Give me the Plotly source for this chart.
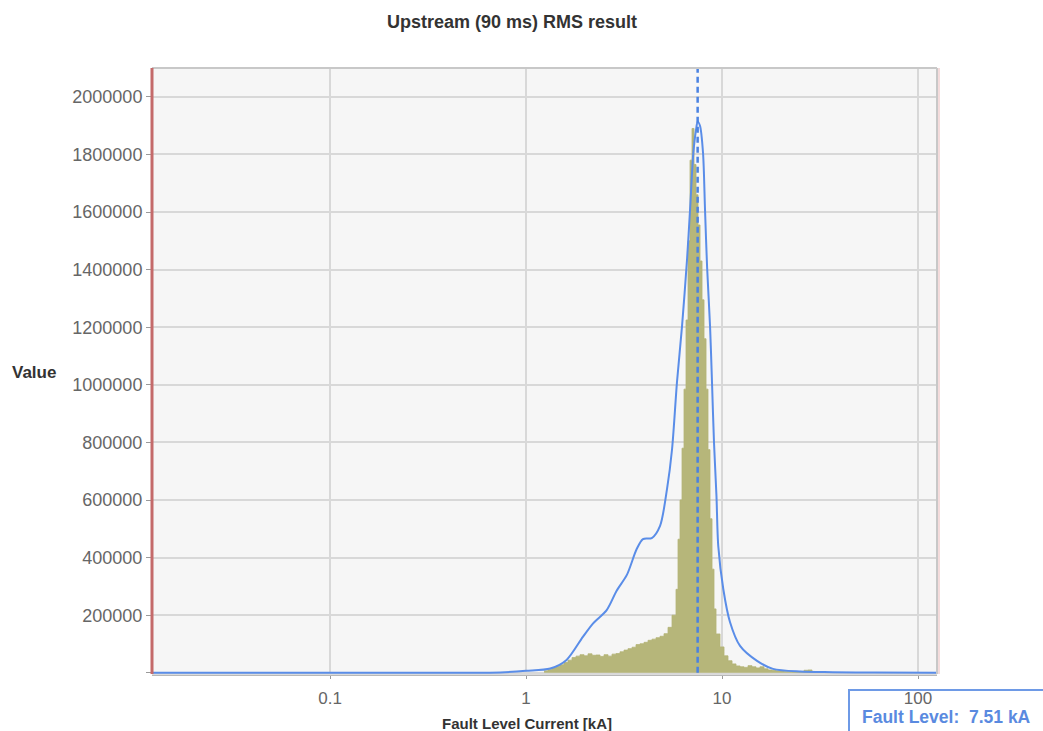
import math
import plotly.graph_objects as go

# Fault level marker (kA)
FAULT_LEVEL_KA = 7.51

# Histogram of simulated RMS fault currents: bin edges (kA) and counts per bin
hist_edges = [
    1.236, 1.295, 1.357, 1.422, 1.491, 1.562, 1.638, 1.717, 1.799, 1.886,
    1.977, 2.072, 2.172, 2.276, 2.385, 2.500, 2.620, 2.747, 2.879, 3.017,
    3.162, 3.314, 3.474, 3.641, 3.816, 4.000, 4.193, 4.394, 4.606, 4.828,
    5.060, 5.303, 5.559, 5.826,
    5.964, 6.106, 6.251, 6.400, 6.552, 6.708, 6.867, 7.031, 7.197, 7.369,
    7.544, 7.723, 7.907, 8.095, 8.288, 8.483, 8.685, 8.892, 9.103, 9.320,
    9.768, 10.24, 10.73, 11.25, 11.79, 12.36, 12.95, 13.57, 14.22, 14.91,
    15.62, 16.38, 17.17, 17.99, 18.86, 19.77, 20.72, 21.72, 22.76, 23.85,
    25.00, 26.20, 27.47, 28.79, 30.17, 31.62,
]
hist_counts = [
    7000, 12000, 17000, 23000, 28000, 36000, 44000, 53000, 58000, 63000,
    59000, 66000, 61000, 62000, 57000, 63000, 58000, 65000, 67000, 73000,
    79000, 84000, 89000, 98000, 101000, 106000, 113000, 117000, 122000, 127000,
    136000, 158000, 200000, 290000,
    464000, 600000, 780000, 985000, 1225000, 1500000, 1780000, 1890000, 1765000, 1660000,
    1555000, 1430000, 1295000, 1160000, 985000, 775000, 535000, 360000, 222000, 135000,
    90000, 59000, 42000, 31000, 24000, 21000, 19000, 25000, 21000, 17000,
    21000, 14000, 10000, 9000, 7000, 7000, 5000, 5000, 3500, 3500,
    5000, 9000, 10000, 3500, 2000,
]

# Smoothed density curve (kA, value)
kde_x = [0.01235, 0.5, 0.74, 1.0, 1.33, 1.61, 1.95, 2.20, 2.58, 2.90,
         3.27, 3.67, 3.95, 4.38, 4.83, 5.24, 5.56, 5.89, 6.25, 6.63,
         6.87, 7.14, 7.37, 7.51, 7.72, 8.00, 8.19, 8.39, 8.69, 8.89,
         9.10, 9.37, 9.57, 10.15, 10.98, 12.36, 15.09, 18.2, 25.0, 36.8,
         60.0, 125.0]
kde_y = [0, 0, 1500, 6900, 15000, 45000, 125000, 172000, 218000, 285300,
         340000, 429800, 464500, 468000, 510600, 637800, 776400, 1008700, 1202800, 1435000,
         1608300, 1805900, 1885600, 1913400, 1899500, 1805900, 1608300, 1410700, 1202800, 1008700,
         800700, 613500, 440200, 291200, 176800, 93600, 41600, 13900, 4500, 2400,
         800, 0]

x_tick_vals = [0.1, 1, 10, 100]
x_tick_text = ["0.1", "1", "10", "100"]
y_tick_vals = [0, 200000, 400000, 600000, 800000, 1000000, 1200000,
               1400000, 1600000, 1800000, 2000000]
y_tick_text = [""] + [str(v) for v in y_tick_vals[1:]]

X_MIN, X_MAX = 0.01235, 125.0
Y_MIN, Y_MAX = -4000, 2100000

FONT = "Liberation Sans, Arial, sans-serif"
BLUE = "#5a8de8"

fig = go.Figure()

# Histogram as a filled step outline
fig.add_trace(go.Scatter(
    x=hist_edges, y=hist_counts + [0],
    mode="lines",
    line=dict(shape="hv", width=0.8, color="rgb(180,180,118)"),
    fill="tozeroy", fillcolor="rgb(182,182,122)",
    hoverinfo="skip",
))

# Density curve
fig.add_trace(go.Scatter(
    x=kde_x, y=kde_y, mode="lines",
    line=dict(color=BLUE, width=2, shape="spline", smoothing=0.8),
))

# Fault level marker line
fig.add_trace(go.Scatter(
    x=[FAULT_LEVEL_KA, FAULT_LEVEL_KA], y=[0, Y_MAX], mode="lines",
    line=dict(color="#4a82e2", width=2.5, dash="6px,4px"),
))

fig.update_layout(
    width=1043, height=731,
    margin=dict(l=152, r=106, t=68, b=57, pad=0),
    paper_bgcolor="white",
    plot_bgcolor="#f6f6f6",
    showlegend=False,
    font=dict(family=FONT),
    title=dict(
        text="<b>Upstream (90 ms) RMS result</b>",
        x=512 / 1043, xanchor="center",
        y=1 - 22 / 731, yanchor="middle",
        font=dict(family=FONT, size=18, color="#333333"),
    ),
    xaxis=dict(
        type="log",
        range=[math.log10(X_MIN), math.log10(X_MAX)],
        tickvals=x_tick_vals, ticktext=x_tick_text,
        showgrid=True, gridcolor="#d8d8d8", gridwidth=2,
        showline=False, zeroline=False,
        ticks="outside", ticklen=4, tickcolor="#9a9a9a", tickwidth=1,
        ticklabelstandoff=5,
        tickfont=dict(family=FONT, size=17, color="#666666"),
    ),
    yaxis=dict(
        range=[Y_MIN, Y_MAX],
        tickvals=y_tick_vals, ticktext=y_tick_text,
        showgrid=True, gridcolor="#d8d8d8", gridwidth=2,
        showline=False, zeroline=False,
        ticks="outside", ticklen=5, tickcolor="#9a9a9a", tickwidth=1,
        tickfont=dict(family=FONT, size=18, color="#666666"),
    ),
    shapes=[
        # plot frame
        dict(type="line", xref="paper", yref="paper", x0=0, x1=1, y0=1, y1=1,
             line=dict(color="#c8c8c8", width=2)),
        dict(type="line", xref="paper", yref="paper", x0=1, x1=1, y0=0, y1=1,
             line=dict(color="#c8c8c8", width=2)),
        dict(type="line", xref="paper", yref="paper", x0=1 + 2 / 785, x1=1 + 2 / 785, y0=0, y1=1,
             line=dict(color="rgba(225,150,150,0.45)", width=1.5)),
        dict(type="line", xref="paper", yref="paper", x0=0, x1=1, y0=-1.2 / 606, y1=-1.2 / 606,
             line=dict(color="#b8b8b8", width=1.5)),
        dict(type="line", xref="paper", yref="paper", x0=0, x1=0, y0=0, y1=1,
             line=dict(color="#c46a6a", width=3)),
        # fault level readout box
        dict(type="rect", xref="paper", yref="paper", layer="below",
             x0=(849 - 152) / 785, x1=1.2, y0=-0.15, y1=(674 - 690) / 606,
             line=dict(color="#6e9ae6", width=2), fillcolor="white"),
    ],
    annotations=[
        dict(text="<b>Value</b>", xref="paper", yref="paper",
             x=(34 - 152) / 785, y=(674 - 373) / 606, showarrow=False,
             xanchor="center", yanchor="middle",
             font=dict(family=FONT, size=17, color="#333333")),
        dict(text="<b>Fault Level Current [kA]</b>", xref="paper", yref="paper",
             x=(527 - 152) / 785, y=(674 - 723) / 606, showarrow=False,
             xanchor="center", yanchor="middle",
             font=dict(family=FONT, size=15, color="#333333")),
        dict(text=f"<b>Fault Level:\u00a0\u00a0{FAULT_LEVEL_KA:.2f} kA</b>",
             xref="paper", yref="paper",
             x=(946 - 152) / 785, y=(674 - 717) / 606, showarrow=False,
             xanchor="center", yanchor="middle",
             font=dict(family=FONT, size=17.5, color="#5a8ae0")),
    ],
)

fig.write_html("out.html")
